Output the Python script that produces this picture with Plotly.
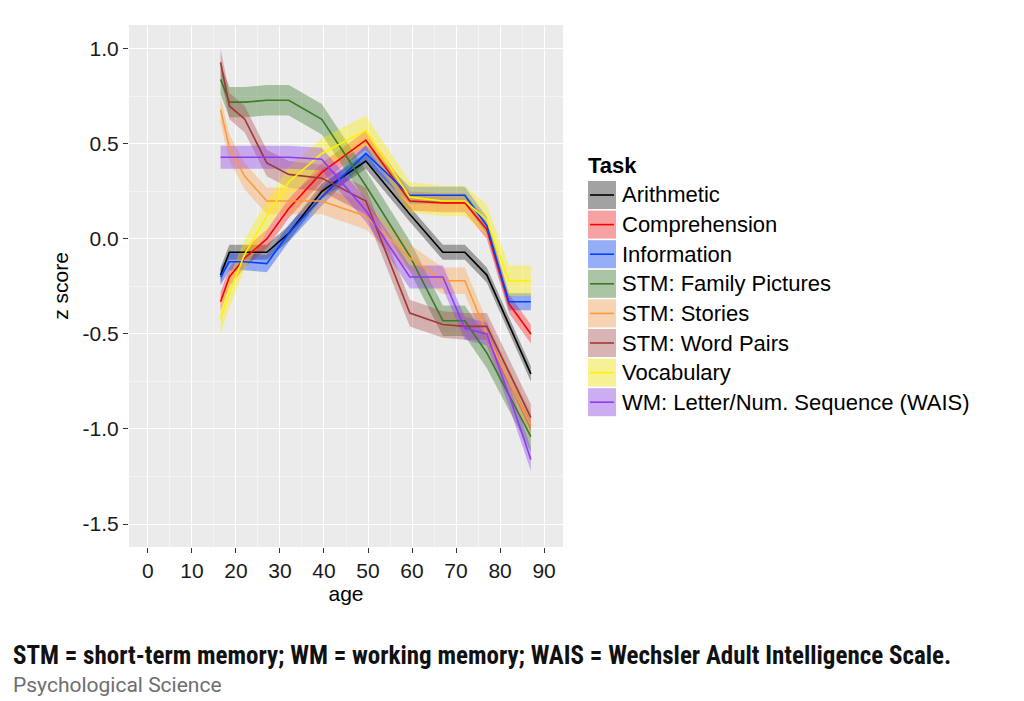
import plotly.graph_objects as go

# ---------------- data ----------------
ages = [16.5, 18.5, 22, 27, 32, 39.5, 49.5, 59.5, 67, 72, 77, 82, 87]

tasks = ["Arithmetic", "Comprehension", "Information", "STM: Family Pictures",
         "STM: Stories", "STM: Word Pairs", "Vocabulary",
         "WM: Letter/Num. Sequence (WAIS)"]

arithmetic    = [-0.19, -0.07, -0.07, -0.07, 0.03, 0.25, 0.41, 0.13, -0.07, -0.07, -0.19, -0.45, -0.71]
comprehension = [-0.33, -0.20, -0.10, 0.00, 0.16, 0.35, 0.52, 0.20, 0.19, 0.19, 0.05, -0.34, -0.50]
information   = [-0.20, -0.12, -0.12, -0.13, 0.03, 0.22, 0.45, 0.23, 0.23, 0.23, 0.07, -0.33, -0.33]
family_pics   = [0.84, 0.72, 0.72, 0.73, 0.73, 0.63, 0.28, -0.09, -0.43, -0.43, -0.60, -0.82, -1.04]
stories       = [0.68, 0.48, 0.33, 0.20, 0.20, 0.20, 0.12, -0.10, -0.22, -0.22, -0.50, -0.75, -0.98]
word_pairs    = [0.93, 0.70, 0.63, 0.40, 0.34, 0.32, 0.20, -0.39, -0.45, -0.46, -0.46, -0.70, -0.94]
vocabulary    = [-0.42, -0.28, -0.08, 0.12, 0.30, 0.45, 0.57, 0.22, 0.20, 0.20, 0.10, -0.22, -0.22]
wm_letter_num = [0.43, 0.43, 0.43, 0.43, 0.43, 0.42, 0.15, -0.20, -0.20, -0.47, -0.50, -0.82, -1.16]

# half-width of the shaded band around each line
band_half = [0.04, 0.05, 0.045, 0.08, 0.07, 0.07, 0.08, 0.06]

series = [arithmetic, comprehension, information, family_pics,
          stories, word_pairs, vocabulary, wm_letter_num]

line_colors = ["#000000", "#FF0000", "#0040FF", "#3A7A2A",
               "#FF9A3C", "#A33636", "#FFF200", "#8F3CF0"]
band_colors = ["rgba(0,0,0,0.33)", "rgba(255,0,0,0.33)", "rgba(0,64,255,0.38)",
               "rgba(58,122,42,0.38)", "rgba(255,154,60,0.35)", "rgba(163,54,54,0.33)",
               "rgba(255,238,0,0.38)", "rgba(143,60,240,0.38)"]

x_ticks = [0, 10, 20, 30, 40, 50, 60, 70, 80, 90]
y_ticks = [1.0, 0.5, 0.0, -0.5, -1.0, -1.5]
y_tick_text = ["1.0", "0.5", "0.0", "-0.5", "-1.0", "-1.5"]

# ---------------- figure ----------------
OFF = 8                     # page body margin
W, H = 1024 - OFF, 701 - OFF
L, R, T, B = 129 - OFF, 563 - OFF, 25 - OFF, 547 - OFF   # plot panel in figure pixels
FONT = "Liberation Sans, Arial, sans-serif"

fig = go.Figure()

for vals, hw, bc in zip(series, band_half, band_colors):
    upper = [v + hw for v in vals]
    lower = [v - hw for v in vals]
    fig.add_trace(go.Scatter(
        x=ages + ages[::-1], y=upper + lower[::-1],
        fill="toself", fillcolor=bc, line=dict(width=0),
        mode="lines", hoverinfo="skip", showlegend=False))

for name, vals, lc in zip(tasks, series, line_colors):
    fig.add_trace(go.Scatter(
        x=ages, y=vals, mode="lines", name=name,
        line=dict(color=lc, width=1.6), showlegend=False))

# helpers: reference-screen pixel -> paper coordinate
def px_x(px):
    return (px - OFF - L) / (R - L)

def px_y(py):
    return (B - (py - OFF)) / (B - T)

# manual ggplot-style legend
shapes = []
annotations = []
annotations.append(dict(text="<b>Task</b>", x=px_x(586), y=px_y(166), xref="paper", yref="paper",
                        xanchor="left", yanchor="middle", showarrow=False,
                        font=dict(family=FONT, size=22, color="#000000")))
row0, dy = 195, 29.6
for i, (name, lc, bc) in enumerate(zip(tasks, line_colors, band_colors)):
    cy = row0 + i * dy
    shapes.append(dict(type="rect", xref="paper", yref="paper",
                       x0=px_x(588), x1=px_x(616), y0=px_y(cy + 14), y1=px_y(cy - 14),
                       fillcolor="#F2F2F2", line=dict(width=0), layer="above"))
    shapes.append(dict(type="rect", xref="paper", yref="paper",
                       x0=px_x(588), x1=px_x(616), y0=px_y(cy + 14), y1=px_y(cy - 14),
                       fillcolor=bc, line=dict(width=0), layer="above"))
    shapes.append(dict(type="line", xref="paper", yref="paper",
                       x0=px_x(590), x1=px_x(614), y0=px_y(cy), y1=px_y(cy),
                       line=dict(color=lc, width=1.6), layer="above"))
    annotations.append(dict(text=name, x=px_x(620), y=px_y(cy), xref="paper", yref="paper",
                            xanchor="left", yanchor="middle", showarrow=False,
                            font=dict(family=FONT, size=22, color="#000000")))

# caption
annotations.append(dict(text="<b>STM = short-term memory; WM = working memory; WAIS = Wechsler Adult Intelligence Scale.</b>",
                        x=px_x(11), y=px_y(655), xref="paper", yref="paper",
                        xanchor="left", yanchor="middle", showarrow=False,
                        font=dict(family="Roboto Condensed, Roboto, sans-serif", size=25, color="#111111")))
annotations.append(dict(text="Psychological Science",
                        x=px_x(11), y=px_y(685), xref="paper", yref="paper",
                        xanchor="left", yanchor="middle", showarrow=False,
                        font=dict(family="Roboto, sans-serif", size=21, color="#6E6E6E")))

fig.update_layout(
    width=W, height=H,
    margin=dict(l=L, r=W - R, t=T, b=H - B, pad=0),
    paper_bgcolor="#FFFFFF", plot_bgcolor="#EBEBEB",
    font=dict(family=FONT, size=21, color="#1A1A1A"),
    shapes=shapes, annotations=annotations, showlegend=False,
)

fig.update_xaxes(
    range=[-4.3, 94.3], tickvals=x_ticks, ticktext=[str(t) for t in x_ticks],
    showgrid=True, gridcolor="#FFFFFF", gridwidth=1.3, zeroline=False,
    ticks="outside", ticklen=5, tickcolor="#333333", tickwidth=1,
    tickfont=dict(family=FONT, size=21, color="#1A1A1A"),
    minor=dict(tickvals=[5, 15, 25, 35, 45, 55, 65, 75, 85], showgrid=True,
               gridcolor="#F4F4F4", gridwidth=0.8, ticks=""),
    title=dict(text="age", font=dict(family=FONT, size=21, color="#000000"), standoff=2),
    showline=False,
)
fig.update_yaxes(
    range=[-1.621, 1.126], tickvals=y_ticks, ticktext=y_tick_text,
    showgrid=True, gridcolor="#FFFFFF", gridwidth=1.3, zeroline=False,
    ticks="outside", ticklen=5, tickcolor="#333333", tickwidth=1,
    tickfont=dict(family=FONT, size=21, color="#1A1A1A"),
    minor=dict(tickvals=[0.75, 0.25, -0.25, -0.75, -1.25], showgrid=True,
               gridcolor="#F4F4F4", gridwidth=0.8, ticks=""),
    title=dict(text="z score", font=dict(family=FONT, size=21, color="#000000"), standoff=8),
    showline=False,
)

fig.write_html("out.html")
